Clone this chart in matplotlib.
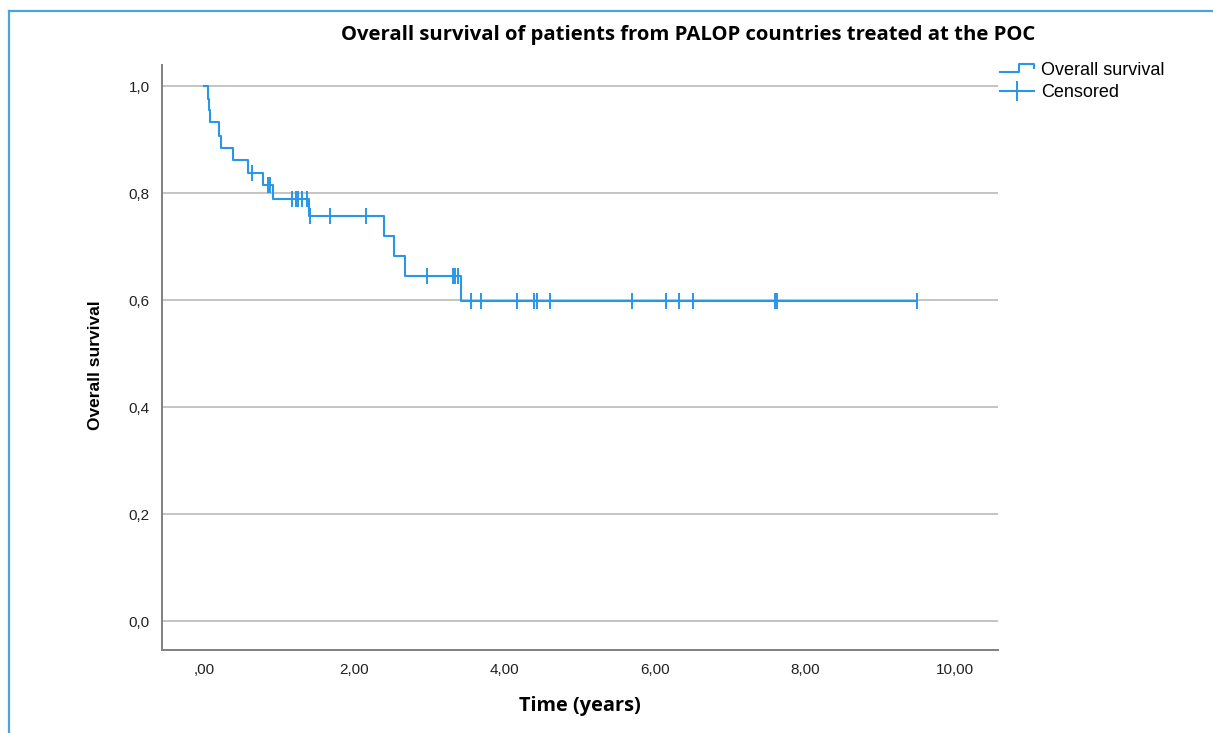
import matplotlib
matplotlib.use('Agg')
import matplotlib.pyplot as plt
import numpy as np
from matplotlib.lines import Line2D
from matplotlib.legend_handler import HandlerBase

# Kaplan-Meier steps
event_times = [0.0, 0.057, 0.07, 0.08, 0.20, 0.226, 0.38, 0.585, 0.79, 0.915,
               1.40, 2.40, 2.53, 2.67, 3.42]
survival = [1.0, 0.977, 0.955, 0.933, 0.908, 0.885, 0.863, 0.838, 0.815, 0.789,
            0.758, 0.720, 0.682, 0.645, 0.599]
censor_times = [0.635, 0.856, 0.879, 1.176, 1.221, 1.256, 1.301, 1.368,
                1.411, 1.678, 2.157, 2.973, 3.312, 3.342, 3.386,
                3.551, 3.684, 4.164, 4.398, 4.430, 4.607, 5.695, 6.148,
                6.325, 6.511, 7.603, 7.634, 9.498]

x_ticks = [0, 2, 4, 6, 8, 10]
x_tick_labels = [',00', '2,00', '4,00', '6,00', '8,00', '10,00']
y_ticks = [0.0, 0.2, 0.4, 0.6, 0.8, 1.0]
y_tick_labels = ['0,0', '0,2', '0,4', '0,6', '0,8', '1,0']

blue = '#2a97e6'


class StepHandler(HandlerBase):
    def create_artists(self, legend, orig_handle, xdescent, ydescent,
                       width, height, fontsize, trans):
        x0 = -xdescent
        y0 = -ydescent
        xs = [x0, x0 + width * 0.55, x0 + width * 0.55, x0 + width, x0 + width]
        ys = [y0 + height * 0.2, y0 + height * 0.2, y0 + height * 0.85,
              y0 + height * 0.85, y0 + height * 0.55]
        line = Line2D(xs, ys, color=blue, lw=1.5)
        line.set_transform(trans)
        return [line]


fig = plt.figure(figsize=(12.13, 7.33), dpi=100)
ax = fig.add_axes([162 / 1213, 1 - 650 / 733, (998 - 162) / 1213, (650 - 65) / 733])

st_x = list(event_times) + [max(censor_times)]
st_y = list(survival) + [survival[-1]]
ax.step(st_x, st_y, where='post', color=blue, lw=1.5)

idx = np.searchsorted(event_times, censor_times, side='right') - 1
cens_y = np.array(survival)[idx]
ax.plot(censor_times, cens_y, linestyle='none', marker='|', markersize=11,
        markeredgewidth=1.4, color=blue)

ax.set_xlim(-0.56, 10.57)
ax.set_ylim(-0.054, 1.04)
ax.set_xticks(x_ticks)
ax.set_xticklabels(x_tick_labels, fontfamily='Liberation Sans', fontsize=11)
ax.set_yticks(y_ticks)
ax.set_yticklabels(y_tick_labels, fontfamily='Liberation Sans', fontsize=11)
ax.tick_params(axis='both', length=0, colors='#222222')
ax.tick_params(axis='x', pad=9)
ax.tick_params(axis='y', pad=9)

ax.yaxis.grid(True, color='#c4c4c4', lw=1.4)
ax.set_axisbelow(True)
for s in ['top', 'right']:
    ax.spines[s].set_visible(False)
for s in ['left', 'bottom']:
    ax.spines[s].set_color('#808080')
    ax.spines[s].set_linewidth(1.4)

fig.text(688 / 1213, 1 - 35 / 733,
         'Overall survival of patients from PALOP countries treated at the POC',
         ha='center', va='center', fontfamily='Open Sans', fontweight='bold',
         fontsize=14.6)
fig.text(580 / 1213, 1 - 706 / 733, 'Time (years)', ha='center', va='center',
         fontfamily='Open Sans', fontweight='bold', fontsize=14.4)
fig.text(95 / 1213, 1 - 365 / 733, 'Overall survival', ha='center', va='center',
         rotation=90, fontfamily='Liberation Sans', fontweight='bold', fontsize=12.5)

h_step = Line2D([], [], color=blue)
h_cens = Line2D([], [], color=blue, lw=1.5, marker='|', markersize=15,
                markeredgewidth=1.4)
fig.legend([h_step, h_cens], ['Overall survival', 'Censored'],
           handler_map={h_step: StepHandler()},
           loc='upper left', bbox_to_anchor=(1000 / 1213, 1 - 62 / 733),
           frameon=False, borderpad=0, borderaxespad=0, handlelength=1.9,
           handletextpad=0.35, labelspacing=0.28, numpoints=1,
           prop={'family': 'Liberation Sans', 'size': 13})

# blue frame around the figure (left and top edges)
fig.add_artist(Line2D([9 / 1213, 9 / 1213], [0, 1 - 11 / 733],
                      transform=fig.transFigure, color='#4aa3df', lw=1.6))
fig.add_artist(Line2D([9 / 1213, 1], [1 - 11 / 733, 1 - 11 / 733],
                      transform=fig.transFigure, color='#4aa3df', lw=1.6))

fig.savefig('out.png', dpi=100)
